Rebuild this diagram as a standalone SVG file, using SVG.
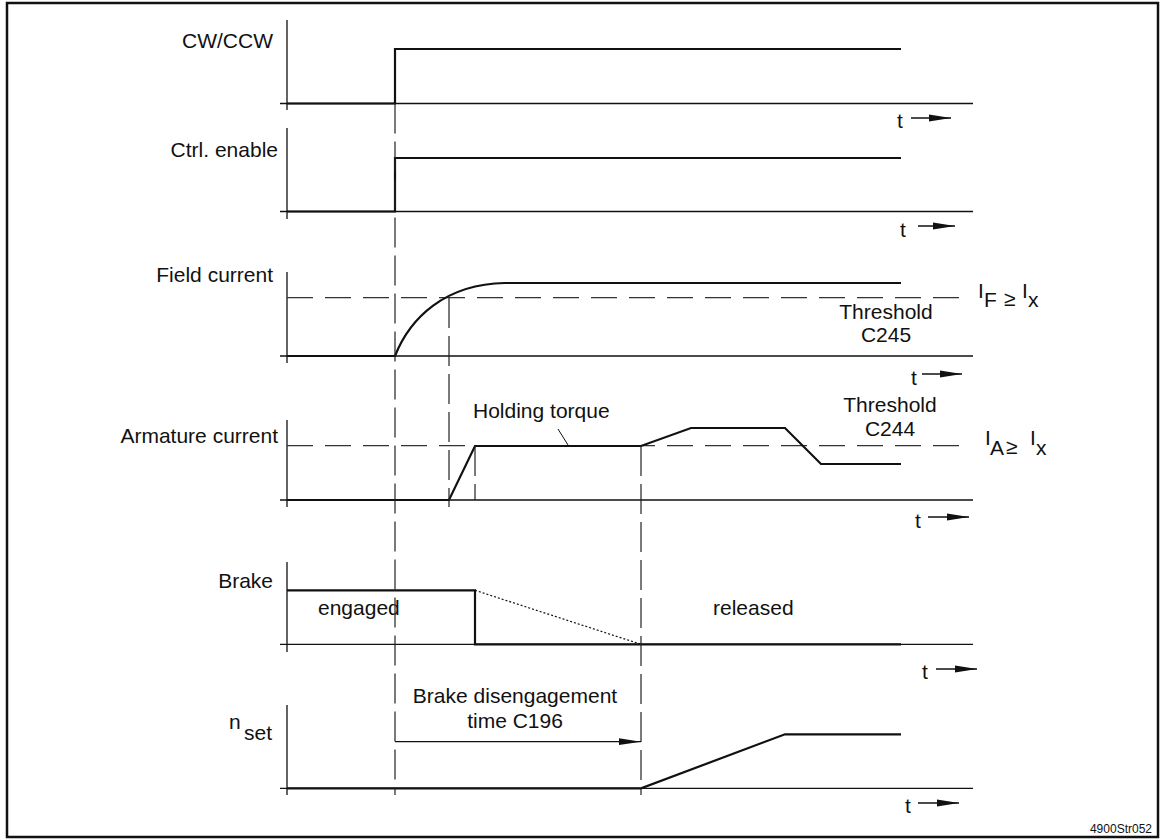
<svg xmlns="http://www.w3.org/2000/svg" width="1160" height="839" viewBox="0 0 1160 839">
<defs>
<style>
.frame{fill:none;stroke:#111;stroke-width:2.5}
.axis{fill:none;stroke:#111;stroke-width:1.3}
.sig{fill:none;stroke:#111;stroke-width:2.2;stroke-linejoin:miter}
.dv{fill:none;stroke:#222;stroke-width:1.2;stroke-dasharray:30 8}
.dh{fill:none;stroke:#333;stroke-width:1.2;stroke-dasharray:26 12}
.dot{fill:none;stroke:#111;stroke-width:1.2;stroke-dasharray:2 2}
.thin{fill:none;stroke:#111;stroke-width:1}
.arr{fill:none;stroke:#111;stroke-width:1.3;marker-end:url(#ah)}
text{font-family:"Liberation Sans",Arial,sans-serif;font-size:21px;fill:#111}
.r{text-anchor:end}
.m{text-anchor:middle}
.small{font-size:12px}
</style>
<marker id="ah" markerUnits="userSpaceOnUse" markerWidth="24" markerHeight="10" refX="22" refY="4" orient="auto">
<path d="M0,0.6 L22,4 L0,7.4 z" fill="#111"/>
</marker>
</defs>
<rect class="frame" x="7" y="3" width="1151" height="834"/>

<g id="cwccw">
<text class="r" x="273" y="48">CW/CCW</text>
<path class="axis" d="M287,20 V110 M280,103.5 H973"/>
<path class="sig" d="M287,103.5 H395 V49 H901"/>
<text x="897" y="128">t</text>
<line class="arr" x1="911" y1="118" x2="951" y2="118"/>
</g>

<g id="ctrl">
<text class="r" x="278" y="157">Ctrl. enable</text>
<path class="axis" d="M287,128 V219 M280,211.5 H973"/>
<path class="sig" d="M287,211.5 H395 V158 H901"/>
<text x="900" y="237">t</text>
<line class="arr" x1="918" y1="226" x2="955" y2="226"/>
</g>

<g id="field">
<text class="r" x="273" y="282">Field current</text>
<path class="axis" d="M287,272 V363 M280,356 H973"/>
<path class="dh" d="M287,297.7 H965"/>
<path class="sig" d="M287,356 H395 C410,318 445,284 505,283 H901"/>
<text x="978" y="298">I</text>
<text x="984" y="307">F</text>
<text x="1004" y="306">≥</text>
<text x="1022" y="298">I</text>
<text x="1028" y="307">x</text>
<text class="m" x="886" y="319">Threshold</text>
<text class="m" x="886" y="342">C245</text>
<text x="911" y="385">t</text>
<line class="arr" x1="922" y1="374" x2="962" y2="374"/>
</g>

<g id="armature">
<text class="r" x="278" y="443">Armature current</text>
<path class="axis" d="M287,420 V507 M280,500 H973"/>
<path class="dh" d="M287,445.7 H965"/>
<path class="sig" d="M287,500 H449 L475,446 H641 L691,428 H785 L821,464 H901"/>
<text x="473" y="418">Holding torque</text>
<line class="thin" x1="558" y1="429" x2="568" y2="445"/>
<text class="m" x="890" y="412">Threshold</text>
<text class="m" x="890" y="436">C244</text>
<text x="985" y="445">I</text>
<text x="990" y="455">A</text>
<text x="1006" y="454">≥</text>
<text x="1030" y="445">I</text>
<text x="1036" y="455">x</text>
<text x="915" y="528">t</text>
<line class="arr" x1="928" y1="517" x2="969" y2="517"/>
</g>

<g id="brake">
<text class="r" x="273" y="588">Brake</text>
<path class="axis" d="M287,562 V652 M280,644.3 H973"/>
<path class="sig" d="M287,590.3 H475 V644.3 H901"/>
<path class="dot" d="M475,590.3 L641,644.3"/>
<text x="318" y="615">engaged</text>
<text x="713" y="615">released</text>
<text x="922" y="679">t</text>
<line class="arr" x1="936" y1="669" x2="977" y2="669"/>
</g>

<g id="nset">
<text x="229" y="729">n</text>
<text x="244" y="740">set</text>
<path class="axis" d="M287,705 V795 M280,788.3 H973"/>
<path class="sig" d="M287,788.3 H641 L785,734.3 H901"/>
<text class="m" x="515" y="703">Brake disengagement</text>
<text class="m" x="515" y="728">time C196</text>
<text x="905" y="813">t</text>
<line class="arr" x1="918" y1="803" x2="959" y2="803"/>
</g>

<g id="connectors">
<path class="dv" d="M395,103.5 V795"/>
<path class="dv" d="M449,298 V507"/>
<path class="dv" d="M475,446 V500"/>
<path class="dv" d="M641,446 V795"/>
<line class="arr" x1="395" y1="741.7" x2="641" y2="741.7"/>
</g>

<text class="r small" x="1152" y="833">4900Str052</text>
</svg>
